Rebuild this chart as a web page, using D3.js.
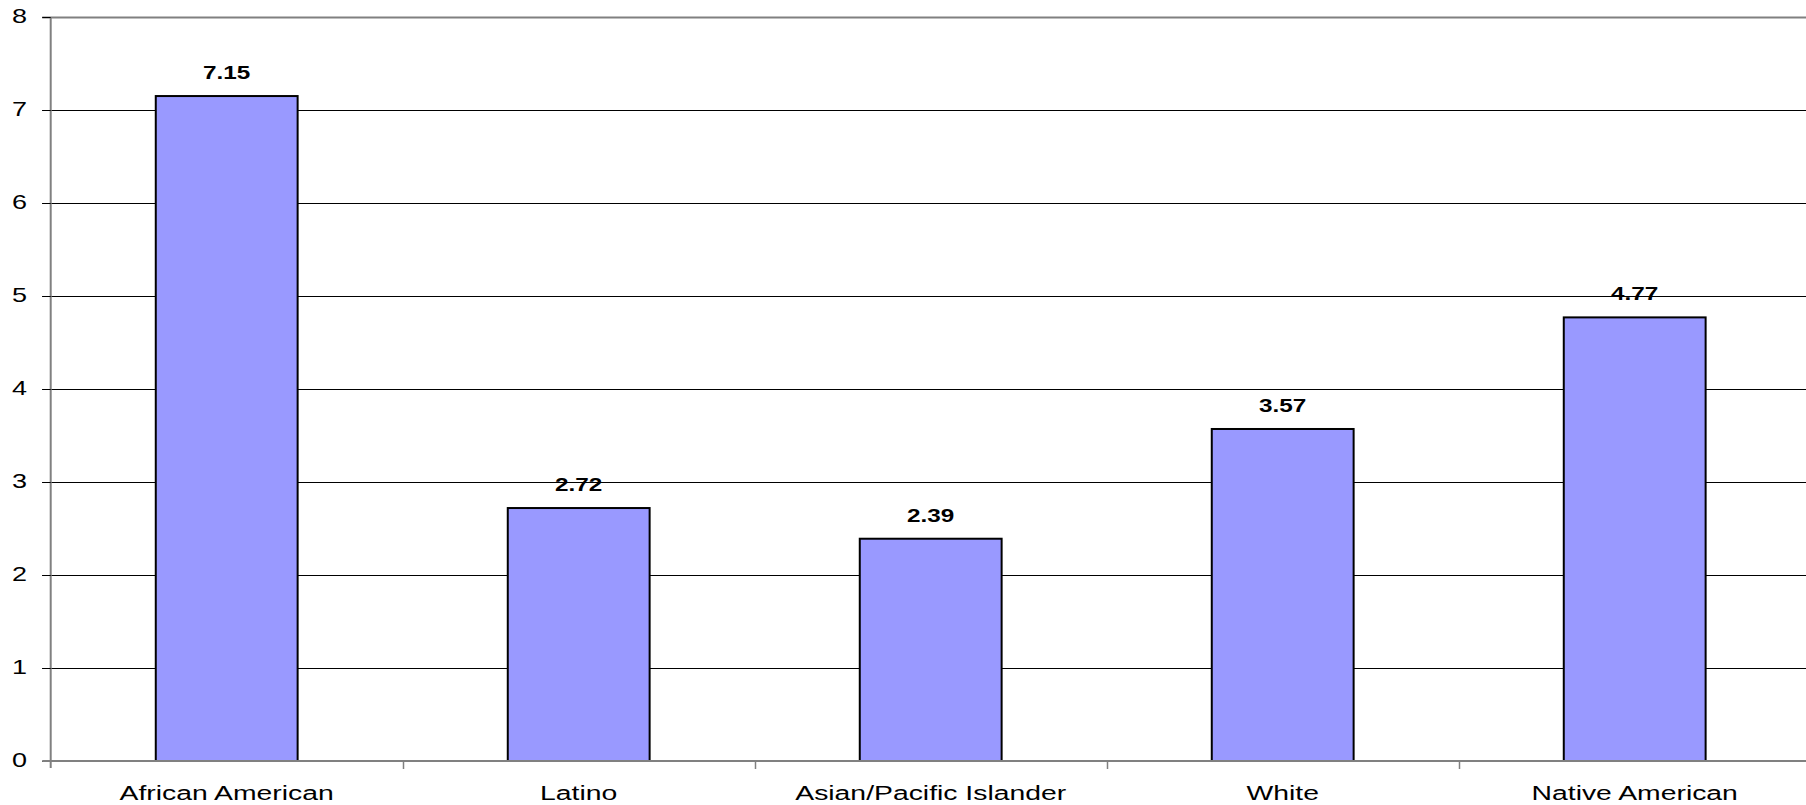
<!DOCTYPE html>
<html>
<head>
<meta charset="utf-8">
<script src="https://cdn.jsdelivr.net/npm/d3@7"></script>
<style>
  html, body { margin: 0; padding: 0; background: #fff; overflow: hidden; }
  svg { display: block; font-family: Arial, "Liberation Sans", sans-serif; }
</style>
</head>
<body>
<svg id="chart" width="1806" height="805"></svg>
<script>
// Rate per group
const categories = ["African American", "Latino", "Asian/Pacific Islander", "White", "Native American"];
const values = [7.15, 2.72, 2.39, 3.57, 4.77];
const yTicks = [0, 1, 2, 3, 4, 5, 6, 7, 8];

const W = 1806, H = 805;
const plotLeft = 50.7, plotRight = 1810.7, plotTop = 17, plotBottom = 761;
const stretch = 1.35; // horizontal text stretch

const svg = d3.select("#chart");

const y = d3.scaleLinear().domain([0, 8]).range([plotBottom, plotTop]);
const x = d3.scaleBand().domain(categories).range([plotLeft, plotRight]).padding(0);
const xBar = d3.scaleBand().domain(categories).range([plotLeft, plotRight])
  .paddingInner(0.597).paddingOuter(0.2985);

// Horizontal gridlines (top one acts as the plot border)
svg.append("g").selectAll("line")
  .data(yTicks.filter(d => d > 0))
  .join("line")
  .attr("x1", plotLeft - 8.5).attr("x2", W)
  .attr("y1", d => Math.round(y(d)) + 0.5).attr("y2", d => Math.round(y(d)) + 0.5)
  .attr("stroke", d => d === 8 ? "#808080" : "#000")
  .attr("stroke-width", d => d === 8 ? 2 : 1);

// Bars
svg.append("g").selectAll("rect")
  .data(values)
  .join("rect")
  .attr("x", (d, i) => xBar(categories[i]))
  .attr("width", xBar.bandwidth())
  .attr("y", d => y(d))
  .attr("height", d => y(0) - y(d))
  .attr("fill", "#9999FF")
  .attr("stroke", "#000")
  .attr("stroke-width", 2);

// Y axis
const yAxis = svg.append("g");
yAxis.append("line")
  .attr("x1", plotLeft).attr("x2", plotLeft)
  .attr("y1", plotTop).attr("y2", plotBottom + 7)
  .attr("stroke", "#808080").attr("stroke-width", 2);
yAxis.selectAll("line.tick")
  .data(yTicks)
  .join("line").attr("class", "tick")
  .attr("x1", plotLeft - 8.5).attr("x2", plotLeft)
  .attr("y1", d => Math.round(y(d)) + 0.5).attr("y2", d => Math.round(y(d)) + 0.5)
  .attr("stroke", "#000").attr("stroke-width", 1);
yAxis.selectAll("text")
  .data(yTicks)
  .join("text")
  .attr("transform", d => `translate(27,${y(d) - 1.5}) scale(${stretch},1)`)
  .attr("text-anchor", "end")
  .attr("dy", "0.35em")
  .attr("font-size", 20)
  .attr("fill", "#000")
  .text(d => d);

// X axis
const xAxis = svg.append("g");
xAxis.append("line")
  .attr("x1", plotLeft - 8.5).attr("x2", W)
  .attr("y1", plotBottom).attr("y2", plotBottom)
  .attr("stroke", "#808080").attr("stroke-width", 2);
xAxis.selectAll("line.tick")
  .data(categories.slice(1))
  .join("line").attr("class", "tick")
  .attr("x1", d => Math.round(x(d)) + 0.5).attr("x2", d => Math.round(x(d)) + 0.5)
  .attr("y1", plotBottom).attr("y2", plotBottom + 8)
  .attr("stroke", "#808080").attr("stroke-width", 1.5);
xAxis.selectAll("text")
  .data(categories)
  .join("text")
  .attr("transform", d => `translate(${x(d) + x.bandwidth() / 2},800) scale(${stretch},1)`)
  .attr("text-anchor", "middle")
  .attr("font-size", 21)
  .attr("fill", "#000")
  .text(d => d);

// Value labels
svg.append("g").selectAll("text")
  .data(values)
  .join("text")
  .attr("transform", (d, i) => `translate(${xBar(categories[i]) + xBar.bandwidth() / 2},${y(d) - 17}) scale(${stretch},1)`)
  .attr("text-anchor", "middle")
  .attr("font-size", 18)
  .attr("font-weight", "bold")
  .attr("fill", "#000")
  .text(d => d.toFixed(2));
</script>
</body>
</html>
